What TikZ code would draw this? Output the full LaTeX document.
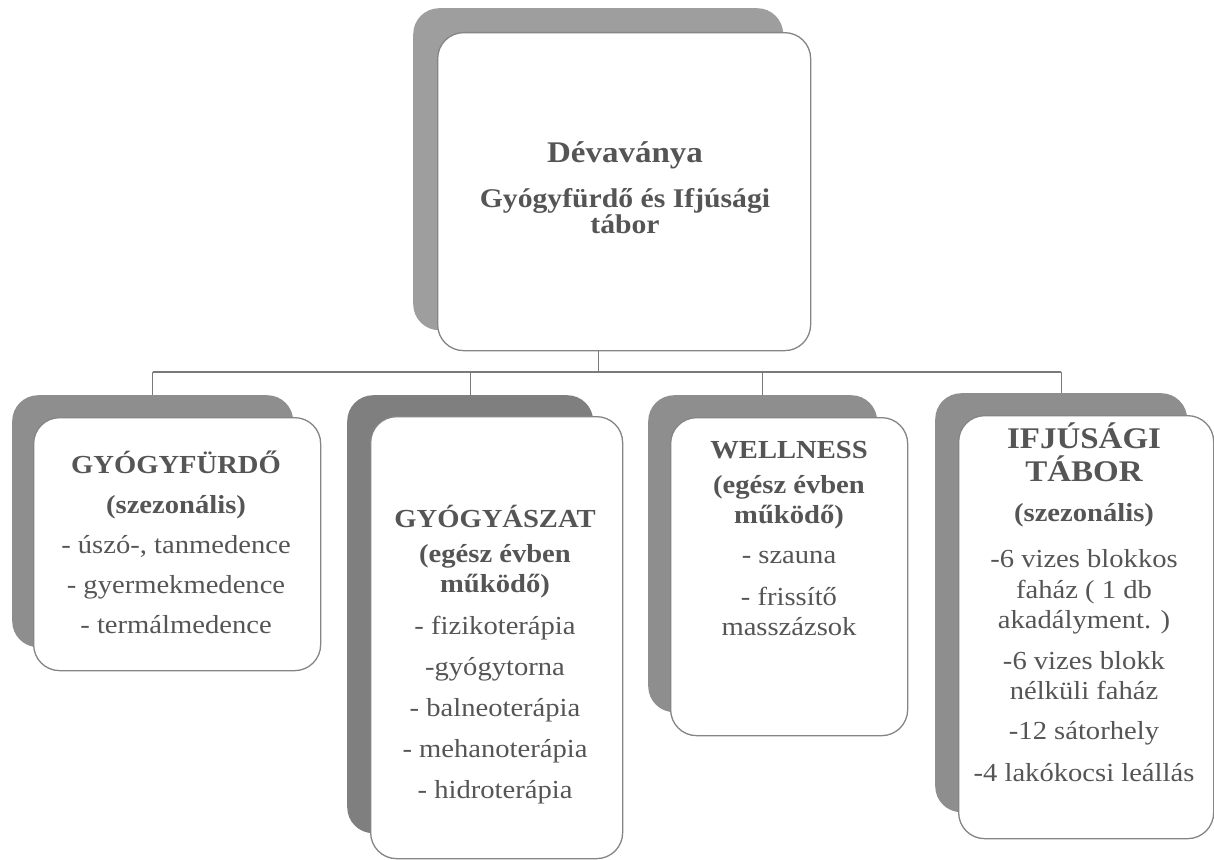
\documentclass[tikz,border=0pt]{standalone}
\usepackage{fontspec}
\setmainfont{Liberation Serif}
\newfontfamily\tfont[FakeStretch=1.1]{Liberation Serif}
\usetikzlibrary{backgrounds}
\definecolor{txt}{HTML}{555555}
\definecolor{bordergray}{HTML}{858585}
\definecolor{lineg}{HTML}{7A7A7A}
\definecolor{shtop}{HTML}{9E9E9E}
\definecolor{shmid}{HTML}{8E8E8E}
\definecolor{shdark}{HTML}{7F7F7F}
\begin{document}
\begin{tikzpicture}[x=1pt,y=-1pt,
  shadowbox/.style={rounded corners=26pt, inner sep=0pt, anchor=north west, draw=none},
  frontbox/.style={draw=bordergray, line width=1.3pt, fill=white, rounded corners=26pt, inner sep=0pt, anchor=north west},
  lbl/.style={anchor=north, align=center, inner sep=0pt, text=txt, font=\tfont\fontsize{26}{30}\selectfont},
  conn/.style={draw=lineg, line width=1.4pt}
]
\useasboundingbox (0,0) rectangle (1214,859);

% top box
\node[shadowbox, fill=shtop, minimum width=370pt, minimum height=322pt] (tops) at (413,8) {};
\node[frontbox, minimum width=373pt, minimum height=318pt] (topf) at (437,32) {};
\node[lbl] (topt) at (625,141) {\bfseries\fontsize{30}{34}\selectfont Dévaványa\\[15pt]
  \bfseries\fontsize{27}{30}\selectfont Gyógyfürdő és Ifjúsági\\[-4pt]
  \bfseries\fontsize{27}{30}\selectfont tábor};

% gyógyfürdő
\node[shadowbox, fill=shmid, minimum width=281pt, minimum height=252pt] (gyfs) at (12,395) {};
\node[frontbox, minimum width=287pt, minimum height=253pt] (gyff) at (33,417) {};
\node[lbl] (gyft) at (176,451) {\bfseries GYÓGYFÜRDŐ\\[10pt]
  \bfseries (szezonális)\\[10pt]
  - úszó-, tanmedence\\[10pt]
  - gyermekmedence\\[10pt]
  - termálmedence};

% gyógyászat
\node[shadowbox, fill=shdark, minimum width=246pt, minimum height=438pt] (gyos) at (347,395) {};
\node[frontbox, minimum width=252pt, minimum height=442pt] (gyof) at (370,416) {};
\node[lbl] (gyot) at (495,505) {\bfseries GYÓGYÁSZAT\\[5pt]
  \bfseries (egész évben\\
  \bfseries működő)\\[12pt]
  - fizikoterápia\\[11pt]
  -gyógytorna\\[11pt]
  - balneoterápia\\[11pt]
  - mehanoterápia\\[11pt]
  - hidroterápia};

% wellness
\node[shadowbox, fill=shmid, minimum width=229pt, minimum height=317pt] (wels) at (648,395) {};
\node[frontbox, minimum width=237pt, minimum height=318pt] (welf) at (670,417) {};
\node[lbl] (welt) at (789,441) {\bfseries WELLNESS\\[5pt]
  \bfseries (egész évben\\
  \bfseries működő)\\[10pt]
  - szauna\\[12pt]
  - frissítő\\
  masszázsok};

% ifjúsági tábor
\node[shadowbox, fill=shmid, minimum width=252pt, minimum height=419pt] (ifjs) at (935,393) {};
\node[frontbox, minimum width=255pt, minimum height=423pt] (ifjf) at (958,415) {};
\node[lbl] (ifjt) at (1084,423) {\bfseries\fontsize{30}{33}\selectfont IFJÚSÁGI\\[3pt]
  \bfseries\fontsize{30}{33}\selectfont TÁBOR\\[10pt]
  \bfseries (szezonális)\\[16pt]
  -6 vizes blokkos\\[1pt]
  faház ( 1 db\\
  akadályment. )\\[11pt]
  -6 vizes blokk\\
  nélküli faház\\[10pt]
  -12 sátorhely\\[12pt]
  -4 lakókocsi leállás};

% connectors
\coordinate (bus) at (0,372);
\begin{pgfonlayer}{background}
\draw[conn] (tops.south) -- (tops.south |- bus);
\draw[conn] (gyfs.north |- bus) -- (ifjs.north |- bus);
\draw[conn] (gyfs.north |- bus) -- (gyfs.north);
\draw[conn] (gyos.north |- bus) -- (gyos.north);
\draw[conn] (wels.north |- bus) -- (wels.north);
\draw[conn] (ifjs.north |- bus) -- (ifjs.north);
\end{pgfonlayer}
\end{tikzpicture}
\end{document}
